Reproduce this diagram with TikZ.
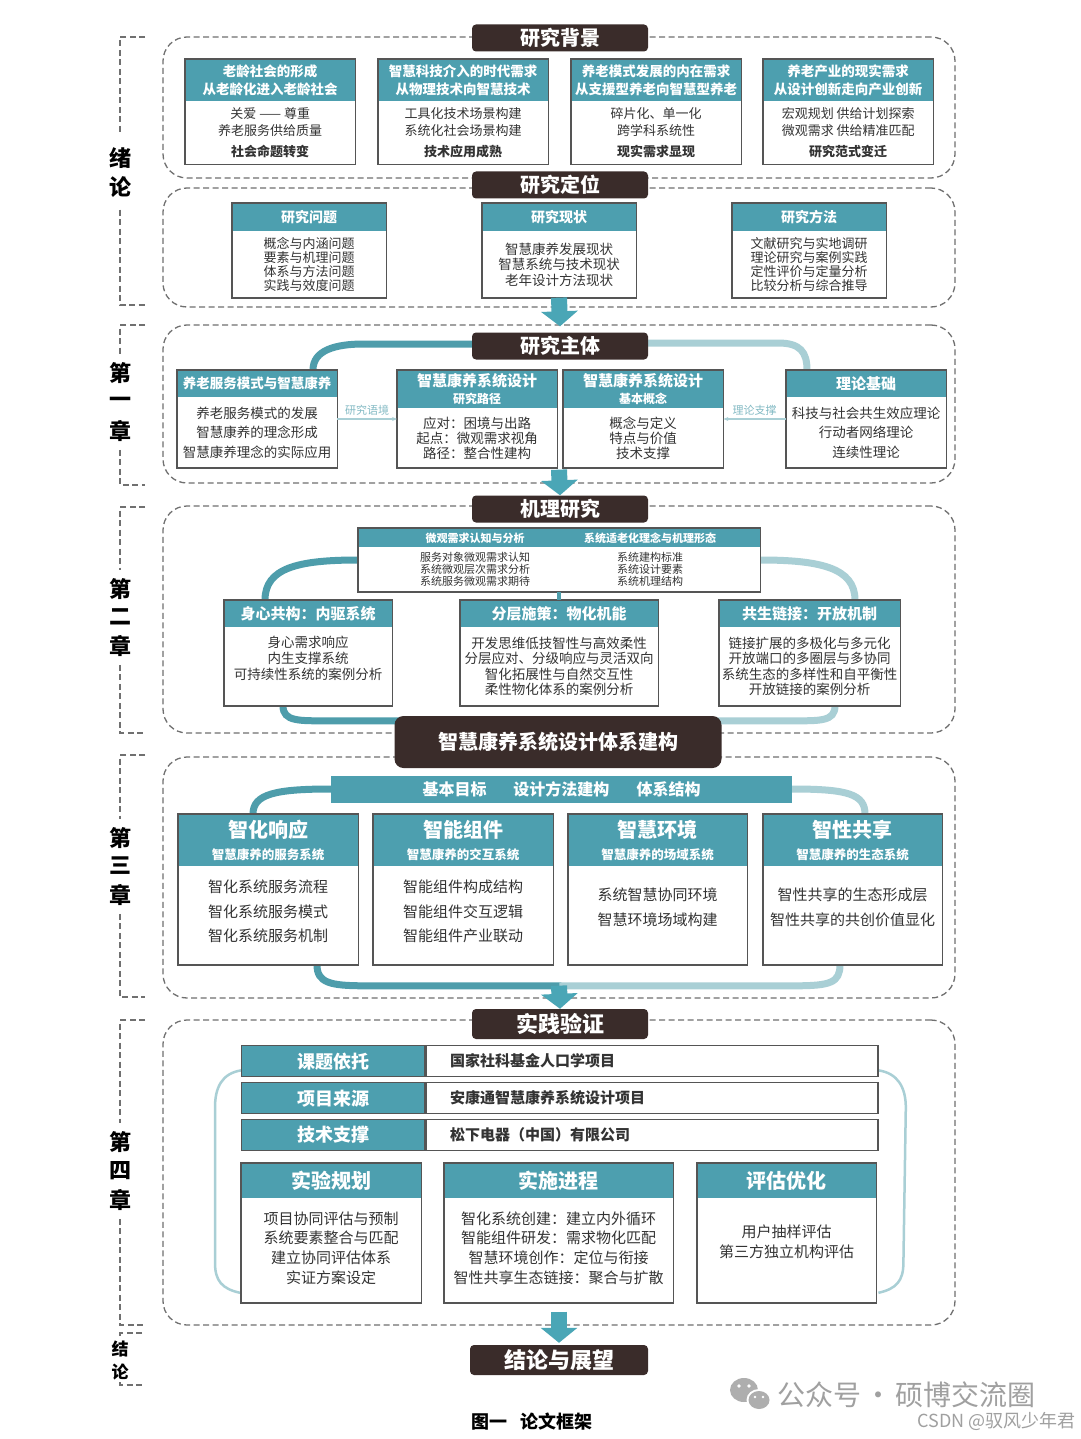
\documentclass[tikz,border=0pt]{standalone}
\usepackage{fontspec}
\setmainfont{Noto Sans CJK SC}
\usepackage{xcolor}
\definecolor{tealhead}{HTML}{4D9FAF}
\definecolor{tealarc}{HTML}{4E9DAB}
\definecolor{tealpale}{HTML}{A9CFD5}
\definecolor{tealarrow}{HTML}{4AA6B6}
\definecolor{darkbar}{HTML}{3A2C2A}
\definecolor{framegray}{HTML}{555555}
\definecolor{dashgray}{HTML}{707070}
\definecolor{txtgray}{HTML}{333333}
\definecolor{wmgray}{HTML}{A0A0A0}
\usepackage{tikz}
\usetikzlibrary{arrows.meta,positioning,calc}
\pgfdeclarelayer{back}
\pgfdeclarelayer{mid}
\pgfsetlayers{back,mid,main}
\newcommand{\fs}[2]{\fontsize{#1}{#2}\selectfont}
\tikzset{
  secbox/.style={draw=dashgray, line width=1.3pt, dash pattern=on 6pt off 3.5pt, rounded corners=24pt, minimum width=792pt, inner sep=0pt},
  titlebar/.style={fill=darkbar, text=white, font=\fs{20}{22}\bfseries, rounded corners=4pt, minimum width=176pt, minimum height=27pt, inner sep=0pt},
  headcell/.style={fill=tealhead, text=white, inner sep=0pt, align=center},
  bodycell/.style={fill=white, inner sep=0pt},
  bodytxt/.style={text=txtgray, inner sep=0pt, align=center},
  boxframe/.style={draw=framegray, line width=1.4pt},
  chap/.style={font=\fs{22}{22}\bfseries, inner sep=0pt},
  bracket/.style={draw=dashgray, line width=1.4pt, dash pattern=on 6pt off 3.5pt},
  flowarc/.style={draw=tealarc, line width=7pt},
  flowpale/.style={draw=tealpale, line width=7pt},
  bracketarc/.style={draw=tealpale, line width=2.5pt},
  blockarrow/.style={draw=tealarrow, line width=16pt, -{Triangle[width=36pt,length=15pt]}},
  thinarrow/.style={draw=tealpale, line width=1.3pt, -{Stealth[length=5pt,width=4pt]}},
  tinylabel/.style={font=\fs{11}{12}, text=tealarc!70, inner sep=1pt},
  rowlabel/.style={draw=framegray, line width=1.4pt, fill=tealhead, text=white, font=\fs{18}{20}\bfseries, minimum width=183pt, minimum height=31pt, inner sep=0pt},
  rowtext/.style={draw=framegray, line width=1.4pt, fill=white, text=txtgray, font=\fs{15}{17}\bfseries, minimum width=452pt, minimum height=31pt, text width=404pt, align=left, inner sep=0pt},
}
% #1 text options, #2 name, #3 x, #4 y, #5 width, #6 head height, #7 body height, #8 head, #9 body
\newcommand{\twobox}[9][]{%
  \node[headcell, minimum width=#5pt, minimum height=#6pt, anchor=north west] (#2h) at (#3,#4) {#8};
  \node[bodycell, minimum width=#5pt, minimum height=#7pt, anchor=north] (#2) at (#2h.south) {};
  \node[bodytxt, #1] (#2t) at (#2) {#9};
  \draw[boxframe] (#2h.north west) rectangle (#2.south east);
}

\begin{document}
\begin{tikzpicture}[x=1pt, y=-1pt]
\useasboundingbox (0,0) rectangle (1080,1439);
\begin{pgfonlayer}{back}
  \fill[white] (0,0) rectangle (1080,1439);
  \node[secbox, minimum height=141pt] (sec0) at (559,107.5) {};
  \node[secbox, minimum height=119pt] (sec1) at (559,247.5) {};
  \node[secbox, minimum height=158pt] (sec2) at (559,404) {};
  \node[secbox, minimum height=227pt] (sec3) at (559,619.5) {};
  \node[secbox, minimum height=241pt] (sec4) at (559,877.5) {};
  \node[secbox, minimum height=305pt] (sec5) at (559,1172.5) {};
\end{pgfonlayer}

% chapter brackets
\node[chap] (xuA) at (120,158) {绪};
\node[chap] (xuB) at (120,187) {论};
\draw[bracket] (145,37) -- (120,37) -- ($(xuA.north)+(0,-12)$);
\draw[bracket] ($(xuB.south)+(0,12)$) -- (120,305) -- (145,305);
\node[chap] (c1A) at (120,373) {第};
\node[chap] (c1B) at (120,402) {一};
\node[chap] (c1C) at (120,431) {章};
\draw[bracket] (145,325) -- (120,325) -- ($(c1A.north)+(0,-8)$);
\draw[bracket] ($(c1C.south)+(0,8)$) -- (120,485) -- (145,485);
\node[chap] (c2A) at (120,589) {第};
\node[chap] (c2B) at (120,617) {二};
\node[chap] (c2C) at (120,646) {章};
\draw[bracket] (145,507) -- (120,507) -- ($(c2A.north)+(0,-8)$);
\draw[bracket] ($(c2C.south)+(0,8)$) -- (120,733) -- (145,733);
\node[chap] (c3A) at (120,838) {第};
\node[chap] (c3B) at (120,866) {三};
\node[chap] (c3C) at (120,895) {章};
\draw[bracket] (145,755) -- (120,755) -- ($(c3A.north)+(0,-8)$);
\draw[bracket] ($(c3C.south)+(0,8)$) -- (120,997) -- (145,997);
\node[chap] (c4A) at (120,1142) {第};
\node[chap] (c4B) at (120,1171) {四};
\node[chap] (c4C) at (120,1200) {章};
\draw[bracket] (145,1020) -- (120,1020) -- ($(c4A.north)+(0,-8)$);
\draw[bracket] ($(c4C.south)+(0,8)$) -- (120,1325) -- (145,1325);
\node[chap, font=\fs{17}{17}\bfseries] (jlA) at (120,1349) {结};
\node[chap, font=\fs{17}{17}\bfseries] (jlB) at (120,1372) {论};
\draw[bracket] (142,1333) -- (120,1333) -- (120,1337);
\draw[bracket] (120,1382) -- (120,1385) -- (142,1385);

% title bars
\node[titlebar] (t0) at (560,38) {研究背景};
\node[titlebar] (t1) at (560,185) {研究定位};
\node[titlebar] (t2) at (560,346) {研究主体};
\node[titlebar] (t3) at (560,509) {机理研究};
\node[titlebar, minimum width=327pt, minimum height=52pt, rounded corners=9pt] (t4) at (558,742) {智慧康养系统设计体系建构};
\node[titlebar, minimum height=30pt, font=\fs{22}{24}\bfseries] (t5) at (560,1024) {实践验证};
\node[titlebar, minimum width=178pt, minimum height=30pt, font=\fs{22}{24}\bfseries] (t6) at (559,1360) {结论与展望};

% 研究背景
\begin{scope}[headcell/.append style={font=\fs{13.5}{18}\bfseries}, bodytxt/.append style={font=\fs{13}{17}}]
  \twobox{bgA}{185}{59}{170}{42}{63}{老龄社会的形成\\从老龄化进入老龄社会}{关爱 —— 尊重\\养老服务供给质量\\[4pt]\textbf{社会命题转变}}
  \twobox{bgB}{378}{59}{170}{42}{63}{智慧科技介入的时代需求\\从物理技术向智慧技术}{工具化技术场景构建\\系统化社会场景构建\\[4pt]\textbf{技术应用成熟}}
  \twobox{bgC}{571}{59}{170}{42}{63}{养老模式发展的内在需求\\从支援型养老向智慧型养老}{碎片化、单一化\\跨学科系统性\\[4pt]\textbf{现实需求显现}}
  \twobox{bgD}{763}{59}{170}{42}{63}{养老产业的现实需求\\从设计创新走向产业创新}{宏观规划 供给计划探索\\微观需求 供给精准匹配\\[4pt]\textbf{研究范式变迁}}
\end{scope}

% 研究定位
\begin{scope}[headcell/.append style={font=\fs{14}{16}\bfseries}, bodytxt/.append style={font=\fs{13}{14}}]
  \twobox{dwA}{232}{203}{154}{28}{66}{研究问题}{概念与内涵问题\\要素与机理问题\\体系与方法问题\\实践与效度问题}
  \twobox[font=\fs{13.5}{15.5}]{dwB}{482}{203}{154}{28}{66}{研究现状}{智慧康养发展现状\\智慧系统与技术现状\\老年设计方法现状}
  \twobox{dwC}{732}{203}{154}{28}{66}{研究方法}{文献研究与实地调研\\理论研究与案例实践\\定性评价与定量分析\\比较分析与综合推导}
\end{scope}

% 研究主体
\begin{scope}[headcell/.append style={font=\fs{15}{17}\bfseries}, bodytxt/.append style={font=\fs{13.5}{19.5}}]
  \twobox{ztA}{177}{370}{160}{27}{70}{\fs{13.5}{15}\bfseries 养老服务模式与智慧康养}{养老服务模式的发展\\智慧康养的理念形成\\智慧康养理念的实际应用}
  \twobox[font=\fs{13.5}{15}]{ztB}{397}{370}{160}{38}{59}{智慧康养系统设计\\\fs{12}{14}研究路径}{应对：困境与出路\\起点：微观需求视角\\路径：整合性建构}
  \twobox[font=\fs{13.5}{15}]{ztC}{563}{370}{160}{38}{59}{智慧康养系统设计\\\fs{12}{14}基本概念}{概念与定义\\特点与价值\\技术支撑}
  \twobox{ztD}{786}{370}{160}{27}{70}{理论基础}{科技与社会共生效应理论\\行动者网络理论\\连续性理论}
\end{scope}
\draw[thinarrow] (ztA.east |- 0,419) -- node[tinylabel, above=2pt] (lbA) {研究语境} (ztB.west |- 0,419);
\draw[thinarrow] (ztD.west |- 0,419) -- node[tinylabel, above=2pt] (lbD) {理论支撑} (ztC.east |- 0,419);

% 机理研究
\twobox{jl}{358}{528}{402}{19}{44}{}{}
\node[font=\fs{11}{12}\bfseries, text=white, inner sep=0pt] (jlLh) at (475,538) {微观需求认知与分析};
\node[font=\fs{11}{12}\bfseries, text=white, inner sep=0pt] (jlRh) at (650,538) {系统适老化理念与机理形态};
\node[bodytxt, font=\fs{11}{12}] (jlLb) at (475,569) {服务对象微观需求认知\\系统微观层次需求分析\\系统服务微观需求期待};
\node[bodytxt, font=\fs{11}{12}] (jlRb) at (650,569) {系统建构标准\\系统设计要素\\系统机理结构};
\begin{scope}[headcell/.append style={font=\fs{15}{17}\bfseries}, bodytxt/.append style={font=\fs{13.5}{15.5}}]
  \twobox[yshift=8pt, font=\fs{13.5}{16}]{jA}{224}{600}{168}{27}{78}{身心共构：内驱系统}{身心需求响应\\内生支撑系统\\可持续性系统的案例分析}
  \twobox{jB}{460}{600}{198}{27}{78}{分层施策：物化机能}{开发思维低技智性与高效柔性\\分层应对、分级响应与灵活双向\\智化拓展性与自然交互性\\柔性物化体系的案例分析}
  \twobox{jC}{719}{600}{181}{27}{78}{共生链接：开放机制}{链接扩展的多极化与多元化\\开放端口的多圈层与多协同\\系统生态的多样性和自平衡性\\开放链接的案例分析}
\end{scope}
\draw[flowarc, line width=4pt] (jl.south) -- (jBh.north);

% 智慧康养系统设计体系建构
\node[fill=tealhead, text=white, font=\fs{16}{18}\bfseries, minimum width=461pt, minimum height=27pt, inner sep=0pt] (goal) at (561.5,789) {基本目标\hspace{27pt}设计方法建构\hspace{27pt}体系结构};
\begin{scope}[headcell/.append style={font=\fs{20}{22}\bfseries}, bodytxt/.append style={font=\fs{15}{24.5}}]
  \twobox[yshift=4pt]{syA}{178}{814}{180}{52}{98}{智化响应\\\fs{12.5}{14}智慧康养的服务系统}{智化系统服务流程\\智化系统服务模式\\智化系统服务机制}
  \twobox[yshift=4pt]{syB}{373}{814}{180}{52}{98}{智能组件\\\fs{12.5}{14}智慧康养的交互系统}{智能组件构成结构\\智能组件交互逻辑\\智能组件产业联动}
  \twobox[yshift=8.5pt]{syC}{568}{814}{179}{52}{98}{智慧环境\\\fs{12.5}{14}智慧康养的场域系统}{系统智慧协同环境\\智慧环境场域构建}
  \twobox[yshift=8.5pt]{syD}{763}{814}{179}{52}{98}{智性共享\\\fs{12.5}{14}智慧康养的生态系统}{智性共享的生态形成层\\智性共享的共创价值显化}
\end{scope}

% 实践验证
\node[rowlabel, anchor=north west] (rowAl) at (241,1045) {课题依托};
\node[rowtext, right=0pt of rowAl] (rowAt) {国家社科基金人口学项目};
\node[rowlabel, below=4.6pt of rowAl] (rowBl) {项目来源};
\node[rowtext, right=0pt of rowBl] (rowBt) {安康通智慧康养系统设计项目};
\node[rowlabel, below=4.6pt of rowBl] (rowCl) {技术支撑};
\node[rowtext, right=0pt of rowCl] (rowCt) {松下电器（中国）有限公司};
\begin{scope}[headcell/.append style={font=\fs{20}{22}\bfseries}, bodytxt/.append style={font=\fs{15}{19.7}}]
  \twobox[yshift=2.5pt]{spA}{241}{1163}{180}{35}{104}{实验规划}{项目协同评估与预制\\系统要素整合与匹配\\建立协同评估体系\\实证方案设定}
  \twobox[yshift=2.5pt]{spB}{444}{1163}{229}{35}{104}{实施进程}{智化系统创建：建立内外循环\\智能组件研发：需求物化匹配\\智慧环境创作：定位与衔接\\智性共享生态链接：聚合与扩散}
  \twobox[yshift=9pt]{spC}{697}{1163}{179}{35}{104}{评估优化}{用户抽样评估\\第三方独立机构评估}
\end{scope}

% flow arcs
\begin{pgfonlayer}{mid}
  \draw[flowarc] ($(ztAh.north west)+(136,0)$) .. controls +(0,-20) and +(-28,0) .. ($(t2.west)+(-108,-2)$) -- ($(t2.west)+(10,-2)$);
  \draw[flowpale] ($(t2.east)+(-10,-3)$) -- ($(t2.east)+(130,-3)$) .. controls +(22,0) and +(0,-18) .. ($(ztDh.north west)+(21,0)$);
  \draw[flowarc] ($(jlh.north west)+(0,32)$) .. controls +(-60,0) and +(0,-32) .. ($(jAh.north west)+(41,0)$);
  \draw[flowpale] ($(jlh.north east)+(0,32)$) .. controls +(60,0) and +(0,-32) .. ($(jCh.north west)+(136,0)$);
  \draw[flowarc] ($(jA.south west)+(59,0)$) .. controls +(0,16) and +(-30,0) .. ($(t4.north west)+(-65,5)$) -- ($(t4.north west)+(10,5)$);
  \draw[flowpale] ($(jC.south west)+(116,0)$) .. controls +(0,16) and +(30,0) .. ($(t4.north east)+(68,5)$) -- ($(t4.north east)+(-10,5)$);
  \draw[flowarc] (goal.west) .. controls +(-55,0) and +(0,-20) .. ($(syAh.north west)+(75,0)$);
  \draw[flowpale] (goal.east) .. controls +(55,0) and +(0,-20) .. ($(syDh.north west)+(102,0)$);
  \draw[flowarc] ($(syA.south west)+(139,0)$) .. controls +(0,18) and +(-35,0) .. ($(syA.south west)+(187,21)$) -- ($(syB.south east)+(8,21)$);
  \draw[flowpale] ($(syB.south east)+(6,21)$) -- ($(syD.south west)+(32,21)$) .. controls +(35,0) and +(0,18) .. ($(syD.south west)+(77,0)$);
  \draw[bracketarc] ($(rowAl.south west)+(0,-7)$) .. controls +(-19,3) and +(0,-20) .. ($(rowAl.south west)+(-26,30)$) -- ($(spA.south west)+(-26,-40)$) .. controls +(0,18) and +(-18,-4) .. ($(spA.south west)+(-1,-10)$);
  \draw[bracketarc] ($(rowAt.south east)+(0,-7)$) .. controls +(19,3) and +(0,-20) .. ($(rowAt.south east)+(27,30)$) -- ($(spC.south east)+(27,-40)$) .. controls +(0,18) and +(18,-4) .. ($(spC.south east)+(2,-10)$);
\end{pgfonlayer}

% block arrows
\draw[blockarrow] ($(sec1.south)+(0,-10)$) -- ($(t2.north)+(0,-6)$);
\draw[blockarrow] ($(sec2.south)+(0,-14)$) -- (t3.north);
\draw[blockarrow] ($(sec4.south)+(0,-13)$) -- (t5.north);
\draw[blockarrow] ($(sec5.south)+(0,-14)$) -- ($(t6.north)+(0,-2)$);

% caption and watermark
\node[font=\fs{18}{20}\bfseries, inner sep=0pt] (cap) at (532,1422) {图一\hspace{14pt}论文框架};
\fill[wmgray!85] (744,1390) ellipse (14pt and 12pt);
\fill[white] (759,1400) ellipse (12.5pt and 11pt);
\fill[wmgray!85] (759,1400) ellipse (10.5pt and 9pt);
\fill[white] (739,1386) circle (1.8pt) (749,1386) circle (1.8pt) (755,1397) circle (1.4pt) (763,1397) circle (1.4pt);
\node[font=\fs{28}{30}, text=wmgray, anchor=west, inner sep=0pt] (wmA) at (777,1395) {公众号\hspace{3pt}·\hspace{3pt}硕博交流圈};
\node[font=\fs{18}{20}, text=wmgray, anchor=east, inner sep=0pt] (wmB) at (1076,1421) {CSDN @驭风少年君};
\end{tikzpicture}
\end{document}
